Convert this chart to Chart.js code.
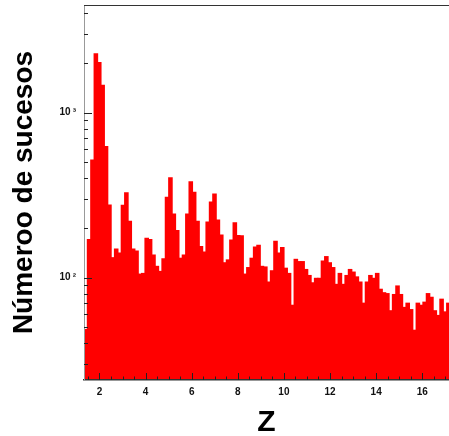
<!DOCTYPE html>
<html>
<head>
<meta charset="utf-8">
<script src="https://cdn.jsdelivr.net/npm/chart.js@4"></script>
<style>
  body { margin: 0; background: #fff; }
  #wrap { width: 449px; height: 436px; }
</style>
</head>
<body>
<div id="wrap"><canvas id="zChart"></canvas></div>
<script>
// histogram bins (Z)
const binStart = 1.33;
const binWidth = 0.147;
const counts = [
  48.5, 170, 516, 2270, 2010, 1460, 622, 275, 132, 149,
  141, 274, 326, 219, 149, 145, 105, 106, 173, 170,
  137, 117, 109, 130, 306, 402, 243, 193, 131, 137,
  243, 381, 329, 219, 154, 143, 217, 287, 321, 223,
  181, 123, 128, 169, 215, 180, 179, 105, 115, 131,
  153, 157, 117, 116, 94, 110, 166, 141, 152, 114,
  106, 68, 129, 125, 125, 112, 103, 93, 99, 99,
  126, 134, 123, 115, 91, 106, 91, 103, 112, 108,
  101, 94, 70, 94, 103, 99, 106, 85, 81, 80,
  63, 79, 89, 79, 66, 70, 64, 48, 70, 68,
  71, 80, 76, 63, 59, 74, 62, 70
];
const yLabels = { 100: '10\u2009²', 1000: '10\u2009³' };

const points = counts.map((c, i) => ({ x: binStart + (i + 0.5) * binWidth, y: c }));

Chart.defaults.font.family = "'Liberation Sans', Arial, sans-serif";
Chart.defaults.color = '#111';

// ROOT style: tick marks inside the frame + top frame line
const insideTicks = {
  id: 'insideTicks',
  afterDraw(chart) {
    const { ctx, chartArea: a, scales: { x, y } } = chart;
    ctx.save();
    ctx.strokeStyle = '#222';
    ctx.lineWidth = 1;
    ctx.beginPath();
    x.ticks.forEach(t => {
      const px = Math.round(x.getPixelForValue(t.value)) + 0.5;
      const major = Math.abs(t.value / 2 - Math.round(t.value / 2)) < 1e-6;
      ctx.moveTo(px, a.bottom);
      ctx.lineTo(px, a.bottom - (major ? 7 : 3.5));
    });
    y.ticks.forEach(t => {
      const e = Math.floor(Math.log10(t.value) + 1e-9);
      const m = t.value / Math.pow(10, e);
      if (Math.abs(m - Math.round(m)) > 1e-6 || t.value <= y.min || t.value >= y.max) return;
      const py = Math.round(y.getPixelForValue(t.value)) + 0.5;
      ctx.moveTo(a.left, py);
      ctx.lineTo(a.left + (Math.round(m) === 1 ? 8 : 4), py);
    });
    ctx.stroke();
    ctx.strokeStyle = '#333';
    ctx.beginPath();
    ctx.moveTo(a.left, a.top + 0.5);
    ctx.lineTo(a.right, a.top + 0.5);
    ctx.stroke();
    ctx.restore();
  }
};

new Chart(document.getElementById('zChart'), {
  type: 'bar',
  data: {
    datasets: [{
      data: points,
      backgroundColor: '#ff0000',
      borderWidth: 0,
      inflateAmount: 0.6,
      barPercentage: 1,
      categoryPercentage: 1
    }]
  },
  options: {
    responsive: true,
    maintainAspectRatio: false,
    animation: false,
    layout: { padding: { top: 5, right: 0, left: 0, bottom: 0 } },
    plugins: { legend: { display: false }, tooltip: { enabled: false } },
    scales: {
      x: {
        type: 'linear',
        offset: false,
        min: 1.33,
        max: 17.16,
        afterFit: s => { s.height = 56; s.paddingLeft = 0; s.paddingRight = 0; },
        grid: { display: false, drawTicks: false },
        border: { display: true, color: '#333', width: 1.5, z: 1 },
        ticks: {
          stepSize: 0.5,
          includeBounds: false,
          autoSkip: false,
          maxRotation: 0,
          padding: 6,
          font: { size: 10, weight: 'bold' },
          callback: v => (Math.abs(v / 2 - Math.round(v / 2)) < 1e-6 ? String(Math.round(v)) : '')
        },
        title: {
          display: true,
          text: 'Z',
          color: '#000',
          font: { size: 30, weight: 'bold', lineHeight: 0.8 },
          padding: { top: 0, bottom: 1 }
        }
      },
      y: {
        type: 'logarithmic',
        min: 24,
        max: 4480,
        afterFit: s => { s.width = 84; s.paddingTop = 0; s.paddingBottom = 0; },
        grid: { display: false, drawTicks: false },
        border: { display: true, color: '#999', width: 1, z: 1 },
        ticks: {
          autoSkip: false,
          padding: 8,
          font: { size: 10, weight: 'bold' },
          callback: v => yLabels[Math.round(v)] && Math.abs(v - Math.round(v)) < 1e-6 ? yLabels[Math.round(v)] : ''
        },
        title: {
          display: true,
          text: 'Númeroo de sucesos',
          color: '#000',
          font: { size: 28, weight: 'bold' },
          padding: { top: 7.5, bottom: 0 }
        }
      }
    }
  },
  plugins: [insideTicks]
});
</script>
</body>
</html>
